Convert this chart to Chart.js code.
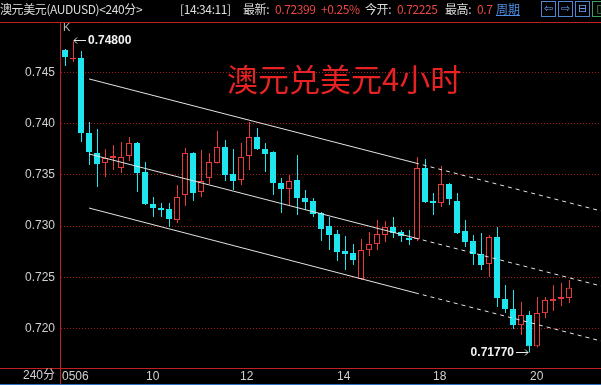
<!DOCTYPE html>
<html>
<head>
<meta charset="utf-8">
<script src="https://cdn.jsdelivr.net/npm/chart.js@4.4.0/dist/chart.umd.min.js"></script>
<style>
  html, body { margin: 0; padding: 0; background: #000; }
  #wrap { position: relative; width: 601px; height: 385px; overflow: hidden; background: #000; }
  #c { position: absolute; left: 0; top: 0; }
  .hd { position: absolute; top: 2px; font: 12px/14px "Noto Sans CJK SC", "Liberation Sans", sans-serif; color: #dcdcdc; white-space: nowrap; letter-spacing: -0.4px; }
  .v { color: #e84646; }
  .cyc { color: #4d8fe8; text-decoration: underline; letter-spacing: 0; }
  .btn { position: absolute; top: 1px; width: 13px; height: 14px; border: 1px solid #4f86d0; color: #6aa6ff; font: 11px/14px "DejaVu Sans", sans-serif; text-align: center; }
  #title { position: absolute; left: 227px; top: 60px; font: 31px/36px "Noto Sans CJK SC", sans-serif; color: #e62222; white-space: nowrap; }
</style>
</head>
<body>
<div id="wrap">
  <canvas id="c" width="601" height="385"></canvas>
  <div class="hd" style="left:0">澳元美元(AUDUSD)&lt;240分&gt;</div>
  <div class="hd" style="left:180px">[14:34:11]</div>
  <div class="hd" style="left:243px">最新:</div>
  <div class="hd v" style="left:275px">0.72399</div>
  <div class="hd v" style="left:321px">+0.25%</div>
  <div class="hd" style="left:365px">今开:</div>
  <div class="hd v" style="left:397px">0.72225</div>
  <div class="hd" style="left:445px">最高:</div>
  <div class="hd v" style="left:477px">0.7</div>
  <div class="hd cyc" style="left:496px">周期</div>
  <div class="btn" style="left:541px">⇦</div>
  <div class="btn" style="left:558px">⇨</div>
  <div class="btn" style="left:575px">⊟</div>
  <div class="btn" style="left:592px;border-color:#3fa060;color:#4fc070">▯</div>
  <div id="title">澳元兑美元4小时</div>
</div>
<script>
// AUD/USD 4-hour bars
const opens  = [0.74717,0.74630,0.74639,0.73908,0.73713,0.73616,0.73664,0.73567,0.73684,0.73811,
                0.73528,0.73216,0.73177,0.73167,0.73060,0.73304,0.73713,0.73333,0.73469,0.73616,
                0.73772,0.73508,0.73450,0.73684,0.73869,0.73752,0.73723,0.73421,0.73362,0.73450,
                0.73274,0.73245,0.73128,0.73001,0.72923,0.72758,0.72738,0.72485,0.72767,0.72826,
                0.72914,0.72992,0.72943,0.72885,0.72875,0.73567,0.73245,0.73226,0.73411,0.73245,
                0.72953,0.72855,0.72728,0.72631,0.72894,0.72290,0.72192,0.72036,0.72134,0.71831,
                0.72153,0.72270,0.72290,0.72299];
const highs  = [0.74727,0.74800,0.74708,0.74015,0.73947,0.73752,0.73791,0.73821,0.73869,0.73821,
                0.73625,0.73284,0.73226,0.73226,0.73401,0.73762,0.73720,0.73742,0.73713,0.73928,
                0.73840,0.73752,0.73811,0.74015,0.73957,0.73811,0.73730,0.73469,0.73499,0.73694,
                0.73352,0.73274,0.73138,0.73089,0.72962,0.72904,0.72826,0.72875,0.72943,0.73060,
                0.73050,0.73089,0.72962,0.72962,0.73674,0.73655,0.73323,0.73586,0.73420,0.73323,
                0.73060,0.72914,0.72933,0.72914,0.72992,0.72426,0.72377,0.72260,0.72173,0.72310,
                0.72310,0.72426,0.72446,0.72475];
const lows   = [0.74561,0.74600,0.73821,0.73596,0.73382,0.73479,0.73547,0.73518,0.73635,0.73333,
                0.73206,0.73089,0.73089,0.72992,0.73031,0.73196,0.73245,0.73284,0.73411,0.73610,
                0.73440,0.73352,0.73401,0.73547,0.73742,0.73528,0.73304,0.73128,0.73206,0.73109,
                0.73157,0.73089,0.72855,0.72767,0.72660,0.72572,0.72621,0.72475,0.72709,0.72767,
                0.72845,0.72885,0.72845,0.72816,0.72855,0.73226,0.73109,0.73187,0.73206,0.72925,
                0.72797,0.72621,0.72572,0.72504,0.72212,0.72153,0.71997,0.71939,0.71770,0.71821,
                0.72104,0.72173,0.72222,0.72251];
const closes = [0.74649,0.74639,0.73908,0.73723,0.73606,0.73664,0.73684,0.73674,0.73811,0.73518,
                0.73216,0.73177,0.73157,0.73070,0.73284,0.73713,0.73323,0.73440,0.73625,0.73772,
                0.73499,0.73440,0.73674,0.73869,0.73752,0.73703,0.73421,0.73362,0.73440,0.73274,
                0.73235,0.73118,0.72972,0.72914,0.72748,0.72728,0.72670,0.72767,0.72826,0.72923,
                0.72992,0.72933,0.72904,0.72865,0.73567,0.73235,0.73226,0.73411,0.73265,0.72933,
                0.72845,0.72728,0.72621,0.72894,0.72299,0.72192,0.72036,0.72134,0.71831,0.72153,
                0.72280,0.72290,0.72310,0.72399];

// price axis ticks
const yTickValues = [0.720, 0.725, 0.730, 0.735, 0.740, 0.745];
// date labels along the bar axis (bar index positions)
const xTickPos    = [-0.375, 10.125, 21.875, 34, 46, 58.125];
const xTickLabels = ['0506', '10', '12', '14', '18', '20'];

// hand-drawn trend channel: bar index of each vertex, price at each vertex
const channelX     = [3, 43.75, 67];
const channelUpper = [0.74435, 0.73617, 0.73148];
const channelMid   = [0.73704, 0.72885, 0.72417];
const channelLower = [0.73177, 0.72351, 0.71881];

const UP = '#e83c3c', DOWN = '#1fe6ee', GRID = '#a81818', AXIS = '#c02020';
const isUp = i => closes[i] >= opens[i];

const bodyData = opens.map((o, i) => ({ x: i, y: [o, closes[i]] }));
const wickData = highs.map((h, i) => ({ x: i, y: [lows[i], h] }));
const lineData = arr => channelX.map((x, i) => ({ x, y: arr[i] }));

function channelSet(arr) {
  return {
    type: 'line', xAxisID: 'x', yAxisID: 'y', order: 0,
    data: lineData(arr),
    borderColor: '#e4e4e4', borderWidth: 1, pointRadius: 0, tension: 0,
    segment: { borderDash: ctx => ctx.p0DataIndex >= 1 ? [4, 4] : undefined }
  };
}

const frame = {
  id: 'frame',
  afterDraw(chart) {
    const { ctx, chartArea: a, scales: { x, y } } = chart;
    const W = chart.width, H = chart.height;
    ctx.save();
    // frame lines
    ctx.fillStyle = AXIS;
    ctx.fillRect(0, a.top - 1, W, 1);
    ctx.fillRect(a.left - 1, a.top - 1, 1, H - a.top + 1);
    ctx.fillRect(0, a.bottom, W, 1);
    ctx.fillStyle = '#2f6fc0';
    ctx.fillRect(0, H - 1, W, 1);

    // small captions
    ctx.fillStyle = '#b8b8b8';
    ctx.font = '11px "Liberation Sans", sans-serif';
    ctx.textAlign = 'left'; ctx.textBaseline = 'middle';
    ctx.fillText('K', a.left + 2, a.top + 5);
    ctx.fillStyle = '#d0d0d0';
    ctx.font = '12px "Liberation Sans", "Noto Sans CJK SC", sans-serif';
    ctx.textAlign = 'right';
    ctx.fillText('240分', a.left - 6, a.bottom + 8);

    // extreme price markers
    ctx.strokeStyle = '#e8e8e8'; ctx.fillStyle = '#f2f2f2'; ctx.lineWidth = 1;
    ctx.font = 'bold 12px "Liberation Sans", sans-serif';
    const hi = highs.indexOf(Math.max(...highs));
    const lo = lows.indexOf(Math.min(...lows));

    let px = Math.round(x.getPixelForValue(hi)) + 1;
    let py = Math.round(y.getPixelForValue(highs[hi])) - 0.5;
    ctx.beginPath();
    ctx.moveTo(px + 12, py); ctx.lineTo(px, py);
    ctx.moveTo(px + 3, py - 3); ctx.lineTo(px, py); ctx.lineTo(px + 3, py + 3);
    ctx.stroke();
    ctx.textAlign = 'left';
    ctx.fillText(highs[hi].toFixed(5), px + 14, py + 0.5);

    px = Math.round(x.getPixelForValue(lo)) - 1;
    py = Math.round(y.getPixelForValue(lows[lo])) + 0.5;
    ctx.beginPath();
    ctx.moveTo(px - 12, py); ctx.lineTo(px, py);
    ctx.moveTo(px - 3, py - 3); ctx.lineTo(px, py); ctx.lineTo(px - 3, py + 3);
    ctx.stroke();
    ctx.textAlign = 'right';
    ctx.fillText(lows[lo].toFixed(5), px - 14, py + 0.5);
    ctx.restore();
  }
};

Chart.defaults.font.family = '"Liberation Sans", sans-serif';

new Chart(document.getElementById('c'), {
  type: 'bar',
  data: {
    datasets: [
      channelSet(channelUpper),
      channelSet(channelMid),
      channelSet(channelLower),
      {
        type: 'bar', xAxisID: 'x', yAxisID: 'y', order: 1, grouped: false,
        data: bodyData, barThickness: 6, minBarLength: 1,
        borderWidth: 1, borderSkipped: false, inflateAmount: 0,
        backgroundColor: c => isUp(c.dataIndex) ? '#000000' : DOWN,
        borderColor: c => isUp(c.dataIndex) ? UP : DOWN
      },
      {
        type: 'bar', xAxisID: 'xw', yAxisID: 'y', order: 2, grouped: false,
        data: wickData, barThickness: 1, borderWidth: 0, inflateAmount: 0,
        backgroundColor: c => isUp(c.dataIndex) ? UP : DOWN
      }
    ]
  },
  options: {
    responsive: false, animation: false, devicePixelRatio: 1,
    layout: { padding: { top: 23, left: 0, right: 0, bottom: 0 } },
    plugins: { legend: { display: false }, tooltip: { enabled: false } },
    scales: {
      x: {
        type: 'linear', min: -0.5, max: 67, offset: false, position: 'bottom',
        grid: { display: false, drawTicks: false }, border: { display: false },
        afterFit: s => { s.height = 17; },
        afterBuildTicks: s => { s.ticks = xTickPos.map(v => ({ value: v })); },
        ticks: {
          autoSkip: false, maxRotation: 0, align: 'start', padding: 1,
          color: '#d0d0d0', font: { size: 12 },
          callback: (v, i) => xTickLabels[i]
        }
      },
      xw: { type: 'linear', min: -0.5625, max: 66.9375, offset: false, display: false },
      y: {
        type: 'linear', min: 0.71618, max: 0.7498, position: 'left',
        afterFit: s => { s.width = 61; },
        afterBuildTicks: s => { s.ticks = yTickValues.map(v => ({ value: v })); },
        grid: { color: GRID, lineWidth: 1, drawTicks: false },
        border: { display: false, dash: [1, 2] },
        ticks: { padding: 6, color: '#d0d0d0', font: { size: 12 }, callback: v => v.toFixed(3) }
      }
    }
  },
  plugins: [frame]
});
</script>
</body>
</html>
